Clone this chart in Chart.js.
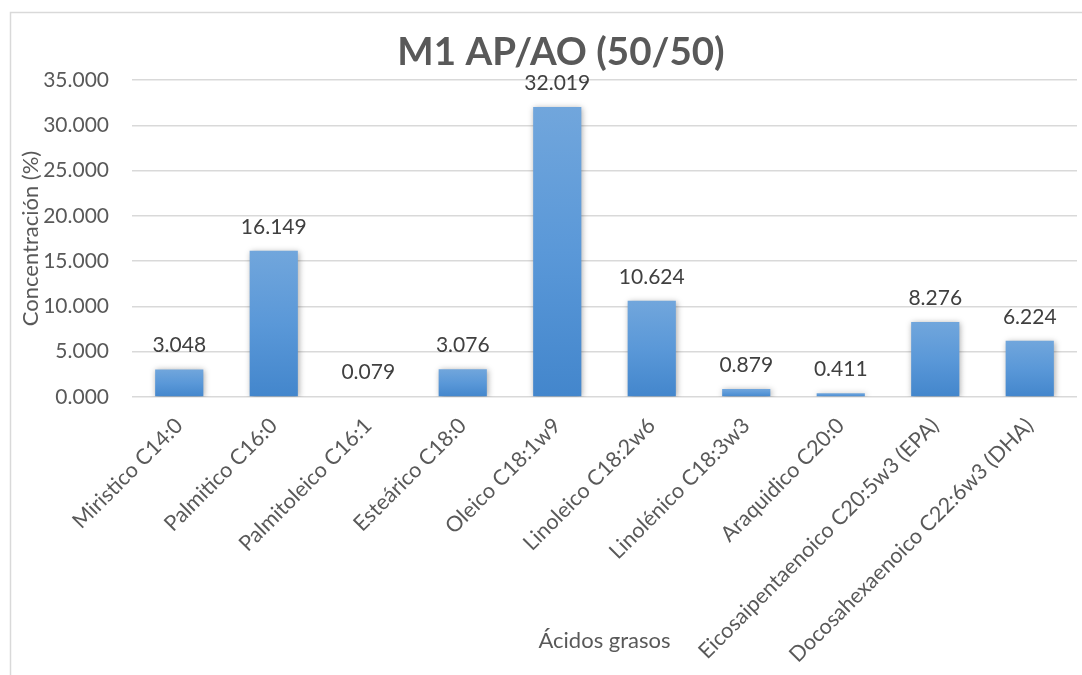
<!DOCTYPE html>
<html>
<head>
<meta charset="utf-8">
<script src="https://cdn.jsdelivr.net/npm/chart.js@4.4.1/dist/chart.umd.min.js"></script>
<style>
  html, body { margin: 0; padding: 0; background: #ffffff; }
  #wrap { width: 1082px; height: 675px; position: relative; }
</style>
</head>
<body>
<div id="wrap"><canvas id="c" width="1082" height="675"></canvas></div>
<script>
const chartTitle = "M1 AP/AO (50/50)";
const xAxisTitle = "Ácidos grasos";
const yAxisTitle = "Concentración (%)";
const categories = [
  "Miristico C14:0",
  "Palmitico C16:0",
  "Palmitoleico C16:1",
  "Esteárico C18:0",
  "Oleico C18:1w9",
  "Linoleico C18:2w6",
  "Linolénico C18:3w3",
  "Araquidico C20:0",
  "Eicosaipentaenoico C20:5w3 (EPA)",
  "Docosahexaenoico C22:6w3 (DHA)"
];
const concentrations = [3.048, 16.149, 0.079, 3.076, 32.019, 10.624, 0.879, 0.411, 8.276, 6.224];
const yTicks = [0, 5, 10, 15, 20, 25, 30, 35];

const FONT = "Lato, 'Open Sans', sans-serif";
const TEXT = "#595959";

function fmt(v) { return v.toFixed(3); }

const framePlugin = {
  id: 'frame',
  beforeDraw(chart) {
    const ctx = chart.ctx;
    ctx.save();
    ctx.fillStyle = '#ffffff';
    ctx.fillRect(0, 0, chart.width, chart.height);
    ctx.strokeStyle = '#d9d9d9';
    ctx.lineWidth = 1.5;
    ctx.strokeRect(10.5, 12.5, 1120, 700);
    ctx.restore();
  },
  afterDraw(chart) {
    const ctx = chart.ctx;
    ctx.save();
    ctx.fillStyle = TEXT;
    ctx.font = "bold 38.5px " + FONT;
    ctx.textAlign = 'center';
    ctx.textBaseline = 'alphabetic';
    ctx.fillText(chartTitle, 561, 65);
    ctx.restore();
  }
};

const shadowPlugin = {
  id: 'barShadow',
  beforeDatasetDraw(chart) {
    const ctx = chart.ctx;
    ctx.save();
    ctx.shadowColor = 'rgba(0,0,0,0.35)';
    ctx.shadowBlur = 6;
    ctx.shadowOffsetX = 1;
    ctx.shadowOffsetY = 1;
  },
  afterDatasetDraw(chart) {
    chart.ctx.restore();
  }
};

const labelPlugin = {
  id: 'valueLabels',
  afterDatasetsDraw(chart) {
    const ctx = chart.ctx;
    const meta = chart.getDatasetMeta(0);
    const data = chart.data.datasets[0].data;
    ctx.save();
    ctx.fillStyle = '#404040';
    ctx.font = "21px " + FONT;
    ctx.textAlign = 'center';
    ctx.textBaseline = 'alphabetic';
    meta.data.forEach((bar, i) => {
      ctx.fillText(fmt(data[i]), bar.x, bar.y - 17);
    });
    ctx.restore();
  }
};

function barColor(context) {
  const chart = context.chart;
  const area = chart.chartArea;
  if (!area || context.type !== 'data') return '#5b9bd5';
  const yScale = chart.scales.y;
  const top = yScale.getPixelForValue(context.raw);
  const bottom = yScale.getPixelForValue(0);
  if (!isFinite(top) || !isFinite(bottom) || Math.abs(bottom - top) < 1) return '#6aa2dc';
  const g = chart.ctx.createLinearGradient(0, top, 0, bottom);
  g.addColorStop(0, '#71a6dc');
  g.addColorStop(0.5, '#5a98d8');
  g.addColorStop(1, '#4386cc');
  return g;
}

new Chart(document.getElementById('c'), {
  type: 'bar',
  data: {
    labels: categories,
    datasets: [{
      data: concentrations,
      backgroundColor: barColor,
      borderWidth: 0,
      categoryPercentage: 1.0,
      barPercentage: 0.51
    }]
  },
  options: {
    responsive: false,
    animation: false,
    devicePixelRatio: 1,
    layout: { padding: { left: 12, right: 5, top: 80, bottom: 0 } },
    plugins: {
      legend: { display: false },
      tooltip: { enabled: false },
      title: { display: false }
    },
    scales: {
      x: {
        grid: { display: false, drawTicks: false },
        border: { display: false },
        ticks: {
          color: TEXT,
          font: { family: FONT, size: 21.5 },
          maxRotation: 45,
          minRotation: 45,
          padding: 16,
          autoSkip: false
        },
        title: {
          display: true,
          text: xAxisTitle,
          color: TEXT,
          font: { family: FONT, size: 22 },
          padding: { top: 4, bottom: 21 }
        },
        afterFit(scale) { scale.height = 278; }
      },
      y: {
        min: 0,
        max: 35,
        afterBuildTicks(scale) { scale.ticks = yTicks.map(v => ({ value: v })); },
        grid: { color: '#d9d9d9', lineWidth: 1.5, drawTicks: false },
        border: { display: false },
        ticks: {
          color: TEXT,
          font: { family: FONT, size: 21 },
          padding: 23,
          callback: (v) => fmt(v)
        },
        title: {
          display: true,
          text: yAxisTitle,
          color: TEXT,
          font: { family: FONT, size: 22 },
          padding: { top: 6, bottom: 0 }
        },
        afterFit(scale) { scale.width = 120; }
      }
    }
  },
  plugins: [framePlugin, shadowPlugin, labelPlugin]
});
</script>
</body>
</html>
